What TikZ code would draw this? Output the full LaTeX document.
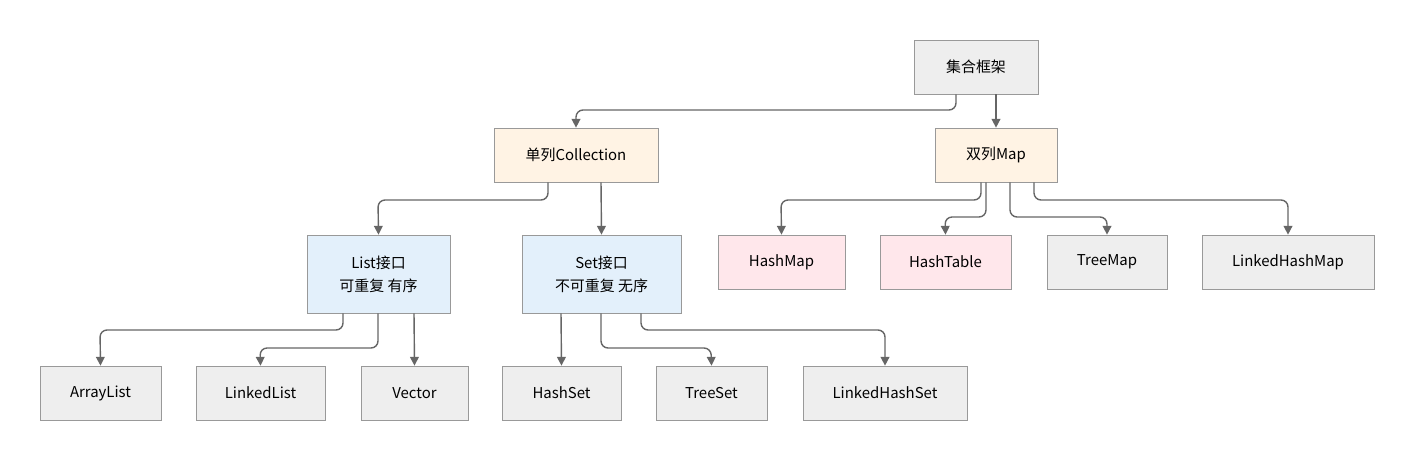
\documentclass[tikz,border=0pt]{standalone}
\usepackage{fontspec}
\setmainfont{Noto Sans CJK SC}
\usetikzlibrary{arrows.meta}
\definecolor{boxgray}{HTML}{EEEEEE}
\definecolor{boxorange}{HTML}{FFF3E4}
\definecolor{boxblue}{HTML}{E3F0FB}
\definecolor{boxpink}{HTML}{FFE7EB}
\definecolor{lineg}{HTML}{666666}
\tikzset{
  box/.style={draw=black!40, fill=boxgray, inner sep=0pt, align=center,
    font=\fontsize{8.5}{13}\selectfont},
  link/.style={draw=lineg, thick, rounded corners=4pt, -{Triangle[length=5pt,width=5pt]}}
}
\begin{document}
\begin{tikzpicture}[x=0.02cm,y=-0.02cm]
    \useasboundingbox (0,0) rectangle (1415,460);
    % root and second level
    \node[box, minimum width=2.48cm, minimum height=1.08cm] (root) at (976,67) {集合框架};
    \node[box, fill=boxorange, minimum width=3.28cm, minimum height=1.08cm] (coll) at (576,155) {单列Collection};
    \node[box, fill=boxorange, minimum width=2.44cm, minimum height=1.08cm] (map) at (996,155) {双列Map};

    % interfaces
    \node[box, fill=boxblue, minimum width=2.86cm, minimum height=1.56cm] (list) at (378.5,274) {List接口\\可重复 有序};
    \node[box, fill=boxblue, minimum width=3.18cm, minimum height=1.56cm] (set) at (601.5,274) {Set接口\\不可重复 无序};

    % map implementations
    \node[box, fill=boxpink, minimum width=2.54cm, minimum height=1.08cm] (hmap) at (781.5,262) {HashMap};
    \node[box, fill=boxpink, minimum width=2.62cm, minimum height=1.08cm] (htab) at (945.5,262) {HashTable};
    \node[box, minimum width=2.40cm, minimum height=1.08cm] (tmap) at (1107,262) {TreeMap};
    \node[box, minimum width=3.44cm, minimum height=1.08cm] (lhmap) at (1288,262) {LinkedHashMap};

    % list and set implementations
    \node[box, minimum width=2.42cm, minimum height=1.08cm] (alist) at (100.5,393) {ArrayList};
    \node[box, minimum width=2.58cm, minimum height=1.08cm] (llist) at (260.5,393) {LinkedList};
    \node[box, minimum width=2.14cm, minimum height=1.08cm] (vec) at (414.5,393) {Vector};
    \node[box, minimum width=2.38cm, minimum height=1.08cm] (hset) at (561.5,393) {HashSet};
    \node[box, minimum width=2.22cm, minimum height=1.08cm] (tset) at (711.5,393) {TreeSet};
    \node[box, minimum width=3.28cm, minimum height=1.08cm] (lhset) at (885,393) {LinkedHashSet};

    % connectors
    \draw[link] (root.south -| 956,0) |- (576,110) -- (coll.north);
    \draw[link] (root.south -| 996,0) -- (map.north);
    \draw[link] (coll.south -| 548,0) |- (378,200) -- (list.north);
    \draw[link] (coll.south -| 601,0) -- (set.north);
    \draw[link] (map.south -| 981,0) |- (781,200) -- (hmap.north);
    \draw[link] (map.south -| 986,0) |- (945,217) -- (htab.north);
    \draw[link] (map.south -| 1010,0) |- (1107,217) -- (tmap.north);
    \draw[link] (map.south -| 1034,0) |- (1288,200) -- (lhmap.north);
    \draw[link] (list.south -| 343,0) |- (100,330) -- (alist.north);
    \draw[link] (list.south -| 378,0) |- (260,348) -- (llist.north);
    \draw[link] (list.south -| 414,0) -- (vec.north);
    \draw[link] (set.south -| 561,0) -- (hset.north);
    \draw[link] (set.south -| 601,0) |- (711,348) -- (tset.north);
    \draw[link] (set.south -| 641,0) |- (885,330) -- (lhset.north);
\end{tikzpicture}
\end{document}
